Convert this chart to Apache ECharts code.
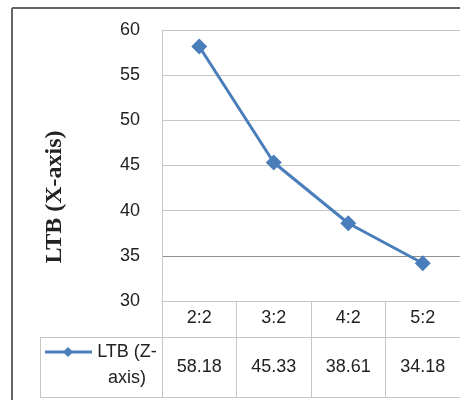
<!DOCTYPE html>
<html>
<head>
<meta charset="utf-8">
<script src="https://cdn.jsdelivr.net/npm/echarts@6/dist/echarts.min.js"></script>
<style>
  html, body { margin: 0; padding: 0; background: #fff; }
  #c { width: 460px; height: 400px; }
</style>
</head>
<body>
<div id="c"></div>
<script>
// Chart data
const categories = ['2:2', '3:2', '4:2', '5:2'];
const ltbValues = [58.18, 45.33, 38.61, 34.18];
const yMin = 30;
const yMax = 60;
const yStep = 5;
const seriesLines = ['LTB (Z-', 'axis)'];
const axisTitle = 'LTB (X-axis)';

// Layout and style
const GRID = { left: 162, top: 30, width: 305, height: 271 };
const TABLE = { headerBottom: 337, bottom: 397, legendLeft: 40 };
const BLUE = '#4A7EBB';
const GRIDLINE = '#c6c6c6';
const TEXT = '#222';
const FONT = 'Liberation Sans';

const chart = echarts.init(document.getElementById('c'), null, { renderer: 'canvas' });

chart.setOption({
  animation: false,
  grid: { left: GRID.left, top: GRID.top, width: GRID.width, height: GRID.height, containLabel: false },
  xAxis: {
    type: 'category',
    data: categories,
    boundaryGap: true,
    axisLine: { lineStyle: { color: GRIDLINE, width: 1 } },
    axisTick: {
      show: true, interval: 0,
      length: TABLE.bottom - (GRID.top + GRID.height),
      lineStyle: { color: GRIDLINE, width: 1 }
    },
    axisLabel: { interval: 0, margin: 8, color: TEXT, fontFamily: FONT, fontSize: 18 }
  },
  yAxis: {
    type: 'value',
    min: yMin, max: yMax, interval: yStep,
    axisLine: { show: true, lineStyle: { color: GRIDLINE, width: 1 } },
    axisTick: { show: false },
    axisLabel: { margin: 22, color: TEXT, fontFamily: FONT, fontSize: 18 },
    splitLine: {
      show: true,
      lineStyle: { color: [GRIDLINE, '#8f8f8f', GRIDLINE, GRIDLINE, GRIDLINE, GRIDLINE, GRIDLINE], width: 1 }
    }
  },
  series: [{
    type: 'line',
    name: seriesLines.join(''),
    data: ltbValues,
    symbol: 'diamond',
    symbolSize: 16,
    lineStyle: { color: BLUE, width: 3 },
    itemStyle: { color: BLUE }
  }]
});

// Data table below the plot, values placed at each category's centre
const gridRight = GRID.left + GRID.width;
const rowMid = (TABLE.headerBottom + TABLE.bottom) / 2;
const elements = [];

const line = (x1, y1, x2, y2, color, w) => ({
  type: 'line', silent: true,
  shape: { x1, y1, x2, y2 },
  style: { stroke: color, lineWidth: w || 1 }
});

elements.push(line(TABLE.legendLeft, TABLE.headerBottom + 0.5, gridRight, TABLE.headerBottom + 0.5, GRIDLINE));
elements.push(line(TABLE.legendLeft, TABLE.bottom + 0.5, gridRight, TABLE.bottom + 0.5, GRIDLINE));
elements.push(line(TABLE.legendLeft + 0.5, TABLE.headerBottom, TABLE.legendLeft + 0.5, TABLE.bottom + 1, GRIDLINE));

ltbValues.forEach((v, i) => {
  const x = chart.convertToPixel({ xAxisIndex: 0 }, categories[i]);
  elements.push({
    type: 'text', silent: true, x, y: rowMid,
    style: { text: v.toFixed(2), fill: TEXT, font: `18px "${FONT}"`, align: 'center', verticalAlign: 'middle' }
  });
});

// Legend key inside the table
const keyY = 352;
elements.push({
  type: 'line', silent: true,
  shape: { x1: 45, y1: keyY, x2: 92, y2: keyY },
  style: { stroke: BLUE, lineWidth: 3 }
});
elements.push({
  type: 'polygon', silent: true,
  shape: { points: [[68, keyY - 5], [73, keyY], [68, keyY + 5], [63, keyY]] },
  style: { fill: BLUE }
});
elements.push({
  type: 'text', silent: true, x: 127, y: keyY,
  style: { text: seriesLines[0], fill: TEXT, font: `18px "${FONT}"`, align: 'center', verticalAlign: 'middle' }
});
elements.push({
  type: 'text', silent: true, x: 127, y: 378,
  style: { text: seriesLines[1], fill: TEXT, font: `18px "${FONT}"`, align: 'center', verticalAlign: 'middle' }
});

// Rotated axis title
elements.push({
  type: 'text', silent: true, x: 55, y: 197, rotation: Math.PI / 2,
  style: { text: axisTitle, fill: TEXT, font: 'bold 24px "Liberation Serif"', align: 'center', verticalAlign: 'middle' }
});

// Chart-area frame
elements.push(line(12, 8, 460, 8, '#666', 2));
elements.push(line(12, 8, 12, 400, '#666', 2));

chart.setOption({ graphic: { elements } });
</script>
</body>
</html>
